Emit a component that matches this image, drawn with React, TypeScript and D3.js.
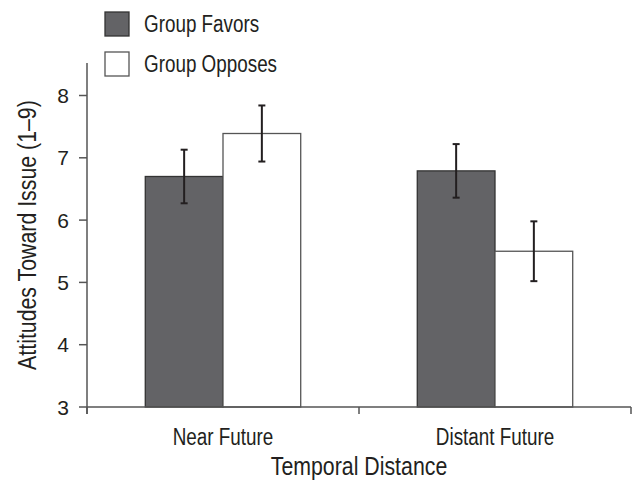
import React, { useEffect, useRef } from 'react';
import * as d3 from 'd3';

const categories = ['Near Future', 'Distant Future'];
const groups = ['Group Favors', 'Group Opposes'];
const favorsValues = [6.7, 6.79];
const favorsErrors = [0.43, 0.43];
const opposesValues = [7.39, 5.5];
const opposesErrors = [0.45, 0.48];
const yTicks = [3, 4, 5, 6, 7, 8];

const FONT = '"Liberation Sans", Arial, sans-serif';
const NARROW = 0.82; // squeeze Liberation Sans to look like a condensed face

function App() {
  const svgRef = useRef<SVGSVGElement>(null);

  useEffect(() => {
    const width = 634;
    const height = 487;
    const svg = d3.select(svgRef.current).attr('width', width).attr('height', height);
    svg.selectAll('*').remove();

    // text helper: condensed text at (tx, ty), optional rotation
    const label = (parent: any, tx: number, ty: number, str: string, size: number, anchor: string, rot = 0, sx = NARROW) => {
      parent.append('g')
        .attr('transform', `translate(${tx},${ty}) rotate(${rot}) scale(${sx},1)`)
        .append('text')
        .attr('text-anchor', anchor)
        .attr('font-family', FONT)
        .attr('font-size', size)
        .attr('fill', '#231f20')
        .text(str);
    };

    const left = 87;
    const right = 631;

    const x = d3.scaleBand().domain(categories).range([left, right]).padding(0);
    const xg = d3.scaleBand().domain(groups).range([0, x.bandwidth()]).paddingInner(0).paddingOuter(0.75);
    const y = d3.scaleLinear().domain([3, 8]).range([407, 95.5]);

    const rows = categories.flatMap((c, i) => [
      { cat: c, group: groups[0], value: favorsValues[i], err: favorsErrors[i] },
      { cat: c, group: groups[1], value: opposesValues[i], err: opposesErrors[i] },
    ]);
    const fill = d3.scaleOrdinal<string>().domain(groups).range(['#636366', '#ffffff']);
    const stroke = d3.scaleOrdinal<string>().domain(groups).range(['#333333', '#555555']);

    // bars
    svg.append('g')
      .selectAll('rect')
      .data(rows)
      .enter().append('rect')
      .attr('x', d => (x(d.cat) as number) + (xg(d.group) as number))
      .attr('y', d => y(d.value))
      .attr('width', xg.bandwidth())
      .attr('height', d => y(3) - y(d.value))
      .attr('fill', d => fill(d.group))
      .attr('stroke', d => stroke(d.group))
      .attr('stroke-width', 1.3);

    // error bars
    const eb = svg.append('g').attr('stroke', '#231f20').attr('stroke-width', 2);
    rows.forEach(d => {
      const cx = (x(d.cat) as number) + (xg(d.group) as number) + xg.bandwidth() / 2;
      eb.append('line').attr('x1', cx).attr('x2', cx).attr('y1', y(d.value + d.err)).attr('y2', y(d.value - d.err));
      eb.append('line').attr('x1', cx - 3.5).attr('x2', cx + 3.5).attr('y1', y(d.value + d.err)).attr('y2', y(d.value + d.err));
      eb.append('line').attr('x1', cx - 3.5).attr('x2', cx + 3.5).attr('y1', y(d.value - d.err)).attr('y2', y(d.value - d.err));
    });

    // axes
    const axisColor = '#555555';
    const ax = svg.append('g').attr('stroke', axisColor).attr('stroke-width', 1.5);
    ax.append('line').attr('x1', left).attr('x2', right).attr('y1', y(3)).attr('y2', y(3));
    ax.append('line').attr('x1', left).attr('x2', left).attr('y1', y(3) + 7).attr('y2', y(8.52));
    const xBounds = [left, ...categories.map(c => (x(c) as number) + x.bandwidth())];
    xBounds.forEach(v => {
      ax.append('line').attr('x1', v).attr('x2', v).attr('y1', y(3)).attr('y2', y(3) + 7);
    });
    yTicks.forEach(t => {
      ax.append('line').attr('x1', left - 8).attr('x2', left).attr('y1', y(t)).attr('y2', y(t));
    });

    // tick labels
    const yl = svg.append('g');
    yTicks.forEach(t => label(yl, 69, y(t) + 7.5, String(t), 21, 'end', 0, 1));

    const xl = svg.append('g');
    categories.forEach(c => label(xl, (x(c) as number) + x.bandwidth() / 2, 445, c, 23, 'middle'));

    // axis titles
    label(svg, (left + right) / 2, 475, 'Temporal Distance', 26, 'middle');
    label(svg, 36, (y(3) + y(8.52)) / 2, 'Attitudes Toward Issue (1\u20139)', 26, 'middle', -90);

    // legend
    const lg = svg.append('g');
    groups.forEach((g, i) => {
      const ly = 12 + i * 40;
      lg.append('rect')
        .attr('x', 105).attr('y', ly).attr('width', 24).attr('height', 24)
        .attr('fill', fill(g)).attr('stroke', stroke(g)).attr('stroke-width', 1.3);
      label(lg, 144, ly + 20, g, 23, 'start');
    });
  }, []);

  return (
    <svg ref={svgRef} style={{ position: 'absolute', left: 0, top: 0, display: 'block', background: '#fff' }}></svg>
  );
}

export default App;
